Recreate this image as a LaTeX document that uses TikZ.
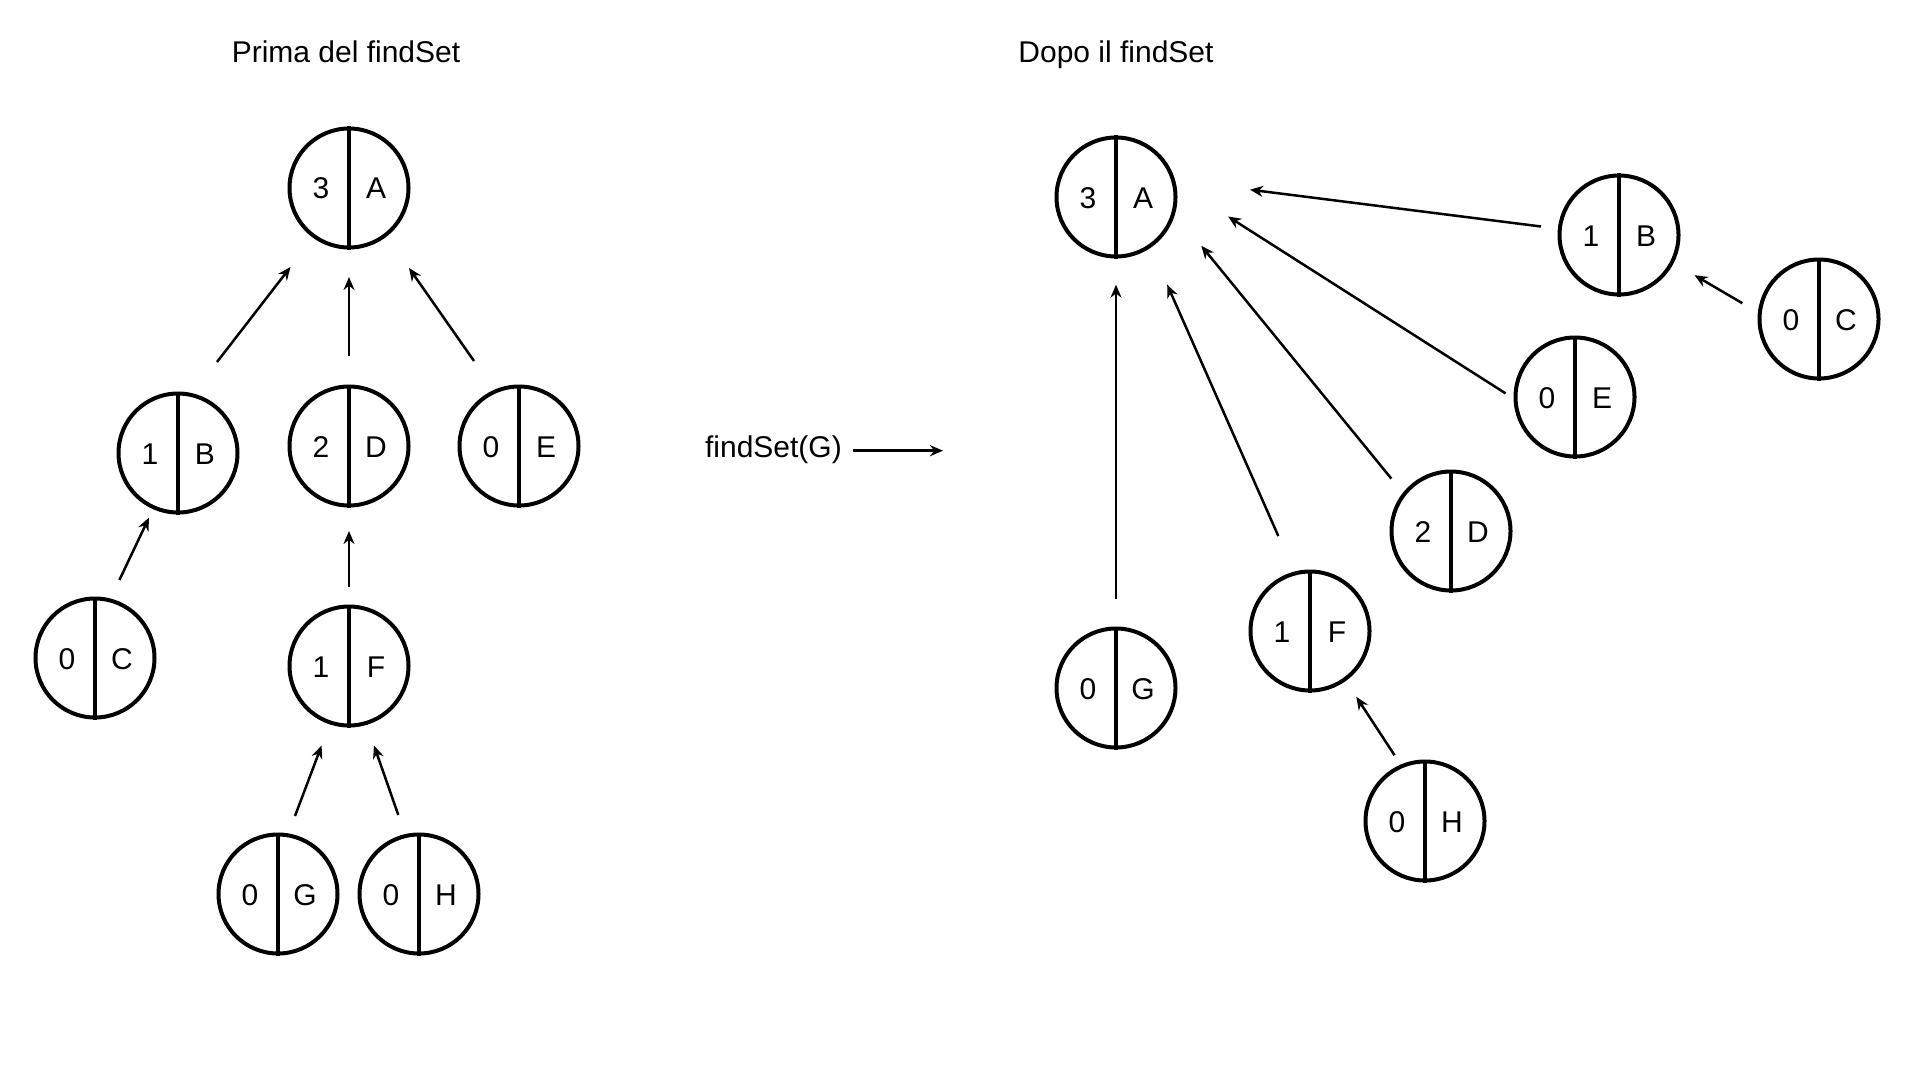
\documentclass[tikz,border=0pt]{standalone}
\usepackage{fontspec}
\setmainfont{Liberation Sans}
\usetikzlibrary{calc,arrows.meta}
\tikzset{
  ubox/.style={circle,draw=black,line width=4pt,minimum size=119pt,inner sep=0pt},
  udiv/.style={line width=4pt},
  utxt/.style={font=\fontsize{30}{34}\selectfont,inner sep=0pt,anchor=base},
  uarr/.style={line width=2.5pt,-{Stealth[length=13pt,width=11pt]}}
}
\newcommand\unode[5]{%
  \node[ubox] (#1) at (#2,#3) {};
  \draw[udiv] (#1.north) -- (#1.south);
  \node[utxt] (#1n) at ($(#1.center)+(-28,11)$) {#4};
  \node[utxt] (#1l) at ($(#1.center)+(27,11)$) {#5};
}
\begin{document}
\begin{tikzpicture}[x=1pt,y=-1pt]
\useasboundingbox[fill=white] (0,0) rectangle (1910,1086);
\node[utxt] (t1) at (346,62.5) {Prima del findSet};
\node[utxt] (t2) at (1116,62.5) {Dopo il findSet};
% left tree
\unode{lA}{349}{188}{3}{A}
\unode{lB}{178}{453}{1}{B}
\unode{lD}{349}{446}{2}{D}
\unode{lE}{519}{446}{0}{E}
\unode{lC}{95}{658}{0}{C}
\unode{lF}{349}{666}{1}{F}
\unode{lG}{278}{894}{0}{G}
\unode{lH}{419}{894}{0}{H}
\draw[uarr] ($(lB)+(39,-91)$) -- ($(lA)+(-58.5,79)$);
\draw[uarr] ($(lD)+(0,-90)$) -- ($(lA)+(0,89)$);
\draw[uarr] ($(lE)+(-45,-85)$) -- ($(lA)+(60,80)$);
\draw[uarr] ($(lC)+(24.4,-78)$) -- ($(lB)+(-29,64.6)$);
\draw[uarr] ($(lF)+(0,-79)$) -- ($(lD)+(0,85)$);
\draw[uarr] ($(lG)+(17,-78)$) -- ($(lF)+(-27.4,79.5)$);
\draw[uarr] ($(lH)+(-20.7,-79)$) -- ($(lF)+(25,79.5)$);
% middle
\node[utxt,anchor=base east] (fs) at (842,457) {findSet(G)};
\coordinate (fsstart) at (852.6,450.7);
\coordinate (fsend) at (943,450.7);
\draw[uarr] (fsstart) -- (fsend);
% right tree
\unode{rA}{1116}{197}{3}{A}
\unode{rB}{1619}{235}{1}{B}
\unode{rC}{1819}{319}{0}{C}
\unode{rE}{1575}{397}{0}{E}
\unode{rD}{1451}{531}{2}{D}
\unode{rF}{1310}{631}{1}{F}
\unode{rG}{1116}{688}{0}{G}
\unode{rH}{1425}{821}{0}{H}
\draw[uarr] ($(rB)+(-78,-8.5)$) -- ($(rA)+(134,-7.3)$);
\draw[uarr] ($(rE)+(-69.4,-3.6)$) -- ($(rA)+(112,19.5)$);
\draw[uarr] ($(rD)+(-59.7,-52.4)$) -- ($(rA)+(85.3,48.8)$);
\draw[uarr] ($(rF)+(-31.7,-95)$) -- ($(rA)+(51.2,87.7)$);
\draw[uarr] ($(rG)+(0,-89)$) -- ($(rA)+(0,87.7)$);
\draw[uarr] ($(rH)+(-30.5,-65.8)$) -- ($(rF)+(46.3,65.8)$);
\draw[uarr] ($(rC)+(-76.7,-15.8)$) -- ($(rB)+(75.5,40.2)$);
\end{tikzpicture}
\end{document}
